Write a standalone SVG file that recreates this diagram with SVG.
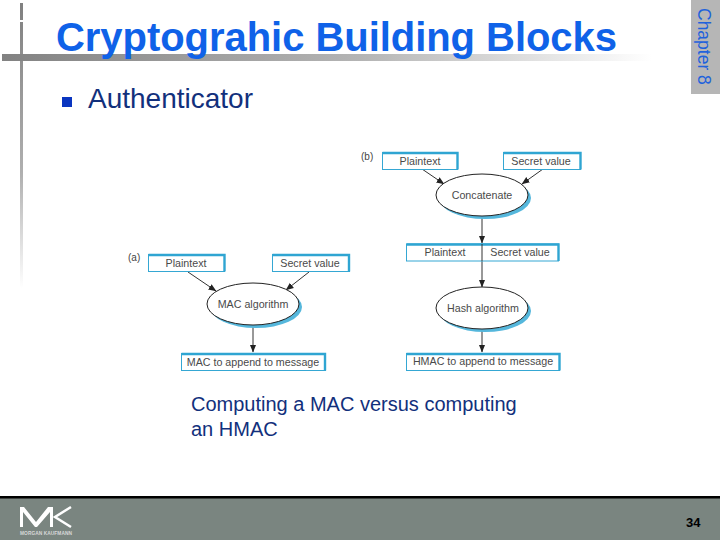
<svg xmlns="http://www.w3.org/2000/svg" width="720" height="540" viewBox="0 0 720 540">
<style>
.box{fill:#fff;stroke:#35a7d3;stroke-width:1}
.edge{fill:none;stroke:#2fa5d2;stroke-width:2.4}
.ell{fill:#fff;stroke:#222;stroke-width:1}
.shadow{fill:#55b7dc}
.lbl{font-family:"Liberation Sans",Arial,sans-serif;font-size:10.700px;fill:#4a4a4a;text-anchor:middle}
.con{stroke:#333;stroke-width:1;fill:none;marker-end:url(#arr)}
.body{font-family:"Liberation Sans",Arial,sans-serif;fill:#12307c}
</style>
<defs>
<marker id="arr" viewBox="0 0 8 8" refX="7.5" refY="4" markerWidth="8" markerHeight="8" markerUnits="userSpaceOnUse" orient="auto"><path d="M0 0.8L8 4L0 7.2Z" fill="#222"/></marker>
<linearGradient id="hbar" x1="0" x2="1" y1="0" y2="0"><stop offset="0" stop-color="#828282"/><stop offset="0.55" stop-color="#b4b4b4"/><stop offset="1" stop-color="#fff"/></linearGradient>
<linearGradient id="vbar" x1="0" x2="0" y1="0" y2="1"><stop offset="0" stop-color="#808080"/><stop offset="0.6" stop-color="#b0b0b0"/><stop offset="1" stop-color="#fff"/></linearGradient>
</defs>
<rect width="720" height="540" fill="#fff"/>
<rect x="20" y="3" width="3" height="285" fill="url(#vbar)"/>
<rect x="20" y="20" width="3" height="2" fill="#fff"/>
<rect x="2" y="54" width="650" height="7" fill="url(#hbar)"/>
<text x="56" y="51" font-family="Liberation Sans,Arial,sans-serif" font-weight="700" font-size="40" fill="#0f62e8" textLength="561">Cryptograhic Building Blocks</text>
<g id="chapter-tab"><rect x="691" y="0" width="29" height="94" fill="#b6b6b6"/>
<text transform="translate(698,8) rotate(90)" font-family="Liberation Sans,Arial,sans-serif" font-size="17.500" fill="#1f62dc">Chapter 8</text></g>
<rect x="62" y="97" width="10" height="10" fill="#0a35c0"/>
<text class="body" x="88" y="108" font-size="28">Authenticator</text>
<g id="connectors">
<path class="con" d="M188 272L216 291"/><path class="con" d="M309 272L286 290"/><path class="con" d="M253 325V352"/>
<path class="con" d="M422 169L444 184"/><path class="con" d="M543 169L522 184"/><path class="con" d="M482 216V243"/><path class="con" d="M482 244V287"/><path class="con" d="M482 329V352"/>
</g>
<text x="128" y="261" font-family="Liberation Sans,Arial,sans-serif" font-size="10" fill="#444">(a)</text>
<text x="361" y="160" font-family="Liberation Sans,Arial,sans-serif" font-size="10" fill="#444">(b)</text>
<g id="a-plaintext"><rect class="box" x="148.500" y="254.500" width="76" height="17"/><path class="edge" d="M148.500 255H224.500V271.500"/><text class="lbl" x="186" y="267">Plaintext</text></g>
<g id="a-secret"><rect class="box" x="272.500" y="254.500" width="77" height="17"/><path class="edge" d="M272.500 255H349V271.500"/><text class="lbl" x="310" y="267">Secret value</text></g>
<g id="a-mac"><ellipse class="shadow" cx="256" cy="307" rx="46" ry="21"/><ellipse class="ell" cx="253" cy="304" rx="46" ry="21"/><text class="lbl" x="253" y="308">MAC algorithm</text></g>
<g id="a-output"><rect class="box" x="181.500" y="353.500" width="144" height="17"/><path class="edge" d="M181.500 354H325V370.500"/><text class="lbl" x="253" y="366">MAC to append to message</text></g>
<g id="b-plaintext"><rect class="box" x="382.500" y="152.500" width="75" height="17"/><path class="edge" d="M382.500 153H457.500V169.500"/><text class="lbl" x="420" y="165">Plaintext</text></g>
<g id="b-secret"><rect class="box" x="503.500" y="152.500" width="77" height="17"/><path class="edge" d="M503.500 153H580.500V169.500"/><text class="lbl" x="541" y="165">Secret value</text></g>
<g id="b-concat"><ellipse class="shadow" cx="485" cy="198" rx="46" ry="21"/><ellipse class="ell" cx="482" cy="195" rx="46" ry="21"/><text class="lbl" x="482" y="199">Concatenate</text></g>
<g id="b-combined"><rect class="box" x="406.500" y="244" width="152" height="17"/><path class="edge" d="M406.500 244.500H558.500V261"/><path d="M482 244V261" stroke="#333"/><text class="lbl" x="445" y="256">Plaintext</text><text class="lbl" x="520" y="256">Secret value</text></g>
<g id="b-hash"><ellipse class="shadow" cx="485" cy="311" rx="46" ry="21"/><ellipse class="ell" cx="482" cy="308" rx="46" ry="21"/><text class="lbl" x="483" y="312">Hash algorithm</text></g>
<g id="b-output"><rect class="box" x="406.500" y="353.500" width="153" height="17"/><path class="edge" d="M406.500 354H559.500V370.500"/><text class="lbl" x="483" y="365">HMAC to append to message</text></g>
<text class="body" x="191" y="411" font-size="20">Computing a MAC versus computing</text>
<text class="body" x="191" y="436" font-size="20">an HMAC</text>
<rect y="498" width="720" height="42" fill="#7a8580"/>
<rect y="496" width="720" height="2.500" fill="#000"/>
<g id="logo"><path d="M20 527V507H24L36 522L48 507H53V527H50V512L37 527H35L23 512V527Z" fill="#fff"/><path d="M71 507L55 517L71 527" fill="none" stroke="#fff" stroke-width="2.500"/>
<text x="20" y="535" font-family="Liberation Sans,Arial,sans-serif" font-size="4.800" font-weight="700" fill="#d8d8d8" textLength="52">MORGAN KAUFMANN</text></g>
<text x="686" y="527" font-family="Liberation Sans,Arial,sans-serif" font-size="13" font-weight="700" fill="#000">34</text>
</svg>
